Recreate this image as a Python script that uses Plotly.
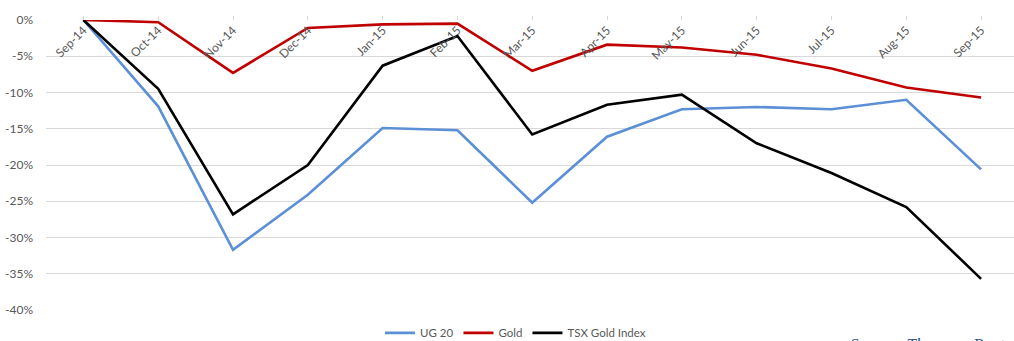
import plotly.graph_objects as go

months = ["Sep-14", "Oct-14", "Nov-14", "Dec-14", "Jan-15", "Feb-15", "Mar-15",
          "Apr-15", "May-15", "Jun-15", "Jul-15", "Aug-15", "Sep-15"]
ug20 = [0.0, -11.9, -31.7, -24.1, -14.9, -15.2, -25.2, -16.1, -12.3, -12.0, -12.3, -11.0, -20.6]
gold = [0.0, -0.3, -7.3, -1.1, -0.6, -0.5, -7.0, -3.4, -3.8, -4.8, -6.7, -9.3, -10.7]
tsx = [0.0, -9.5, -26.8, -20.0, -6.3, -2.2, -15.8, -11.7, -10.3, -17.0, -21.1, -25.8, -35.7]
ytick_vals = [0, -5, -10, -15, -20, -25, -30, -35, -40]
ytick_text = ["0%", "-5%", "-10%", "-15%", "-20%", "-25%", "-30%", "-35%", "-40%"]

FONT = "Lato, 'Open Sans', sans-serif"
GRAY = "#595959"

fig = go.Figure()
for name, vals, col in [("UG 20", ug20, "#5B8FD6"), ("Gold", gold, "#C00000"),
                        ("TSX Gold Index", tsx, "#000000")]:
    fig.add_trace(go.Scatter(x=months, y=vals, mode="lines", name=name,
                             line=dict(color=col, width=2.6)))

fig.update_layout(
    width=1014, height=341,
    margin=dict(l=46, r=0, t=20, b=31, autoexpand=False),
    plot_bgcolor="white", paper_bgcolor="white",
    font=dict(family=FONT, size=12, color=GRAY),
    showlegend=True,
    legend=dict(orientation="h", x=0.485, xanchor="center", y=-0.079, yanchor="middle",
                font=dict(family=FONT, size=11.5, color=GRAY), entrywidth=0,
                itemwidth=30, tracegroupgap=0),
    xaxis=dict(type="category", range=[-0.5, 12.44], side="bottom", anchor="free",
               position=1, tickangle=-45, showgrid=False, zeroline=False,
               showline=False, ticks="inside", ticklen=4, tickcolor="#D9D9D9",
               automargin=False,
               tickfont=dict(family=FONT, size=12, color=GRAY)),
    yaxis=dict(range=[-40, 0], tickvals=ytick_vals, ticktext=ytick_text,
               showgrid=True, gridcolor="#D9D9D9", gridwidth=1, zeroline=False,
               showline=False, ticks="", ticklabelstandoff=12, automargin=False,
               tickfont=dict(family=FONT, size=12, color=GRAY)),
    annotations=[dict(text="<i>Source: Thomson Reuters</i>", xref="paper", yref="paper",
                      x=0.828, y=-0.079, xanchor="left", yanchor="top", showarrow=False,
                      font=dict(family="Liberation Serif", size=17, color="#2F5597"))],
)

fig.write_html("out.html")
